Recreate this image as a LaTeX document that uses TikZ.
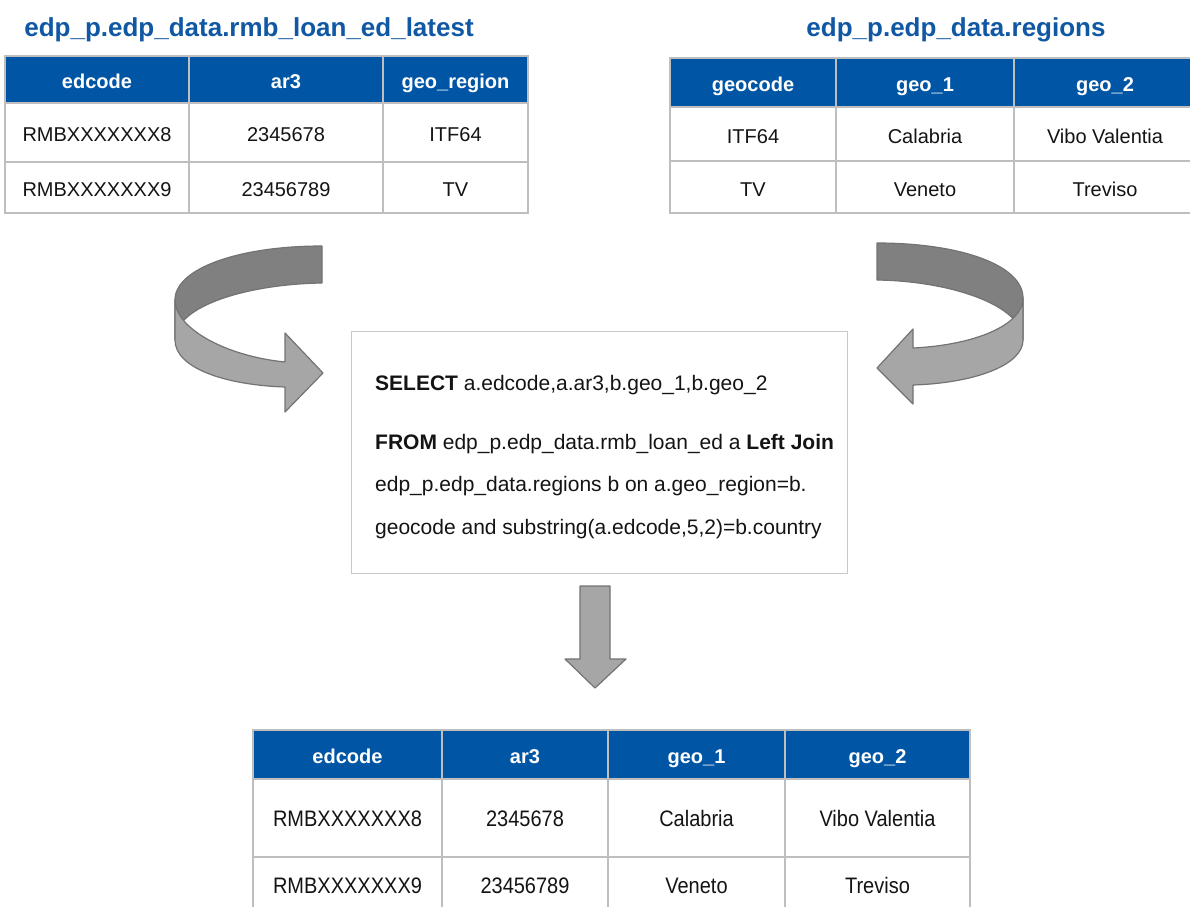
\documentclass[tikz,border=0pt]{standalone}
\usepackage{fontspec}
\setmainfont{Liberation Sans}
\usepackage{graphicx}
\definecolor{hdrblue}{RGB}{0,86,165}
\definecolor{ttlblue}{RGB}{16,88,164}
\definecolor{gridgray}{RGB}{190,190,190}
\definecolor{arrdark}{RGB}{128,128,128}
\definecolor{arrlight}{RGB}{166,166,166}
\definecolor{arredge}{RGB}{115,115,115}
\definecolor{boxgray}{RGB}{200,200,200}
\definecolor{txt}{RGB}{20,20,20}
\newcommand\mkcell[7]{\node[#1, minimum width=#5pt, minimum height=#6pt, anchor=north west] (#2) at (#3,#4) {#7};}
\newcommand\tall[1]{\scalebox{1}[1.12]{#1}}
\begin{document}
\begin{tikzpicture}[x=1pt,y=-1pt,
  cellbase/.style={draw=gridgray, line width=2.4pt, inner sep=0pt, outer sep=0pt, text height=18pt, text depth=0pt},
  hdrcell/.style={cellbase, fill=hdrblue, text=white, font=\fontsize{20}{24}\selectfont\bfseries},
  bodycell/.style={cellbase, fill=white, text=txt, font=\fontsize{20}{24}\selectfont},
  bodytall/.style={bodycell, text height=16.5pt},
  tabletitle/.style={text=ttlblue, font=\fontsize{26}{31}\selectfont\bfseries, inner sep=0pt, anchor=base},
  sqltext/.style={anchor=base west, inner sep=0pt, text=txt, font=\fontsize{21}{25}\selectfont},
  backband/.style={fill=arrdark, draw=arredge, line width=1.2pt, line join=round},
  frontband/.style={fill=arrlight, draw=arredge, line width=1.2pt, line join=round},
]
\useasboundingbox (0,0) rectangle (1190,906);
\clip (0,0) rectangle (1190,906);
\fill[white] (0,0) rectangle (1190,906);

% titles
\node[tabletitle] (titleA) at (249,36) {edp\_p.edp\_data.rmb\_loan\_ed\_latest};
\node[tabletitle] (titleB) at (956,36) {edp\_p.edp\_data.regions};

% table A
\mkcell{hdrcell}{a00}{5}{56}{184}{47}{edcode}
\mkcell{hdrcell}{a01}{189}{56}{194}{47}{ar3}
\mkcell{hdrcell}{a02}{383}{56}{145}{47}{geo\_region}
\mkcell{bodycell}{a10}{5}{103}{184}{59}{RMBXXXXXXX8}
\mkcell{bodycell}{a11}{189}{103}{194}{59}{2345678}
\mkcell{bodycell}{a12}{383}{103}{145}{59}{ITF64}
\mkcell{bodycell}{a20}{5}{162}{184}{51}{RMBXXXXXXX9}
\mkcell{bodycell}{a21}{189}{162}{194}{51}{23456789}
\mkcell{bodycell}{a22}{383}{162}{145}{51}{TV}

% table B
\mkcell{hdrcell}{b00}{670}{58}{166}{49}{geocode}
\mkcell{hdrcell}{b01}{836}{58}{178}{49}{geo\_1}
\mkcell{hdrcell}{b02}{1014}{58}{182}{49}{geo\_2}
\mkcell{bodycell}{b10}{670}{107}{166}{54}{ITF64}
\mkcell{bodycell}{b11}{836}{107}{178}{54}{Calabria}
\mkcell{bodycell}{b12}{1014}{107}{182}{54}{Vibo Valentia}
\mkcell{bodycell}{b20}{670}{161}{166}{52}{TV}
\mkcell{bodycell}{b21}{836}{161}{178}{52}{Veneto}
\mkcell{bodycell}{b22}{1014}{161}{182}{52}{Treviso}

% left curved arrow
\draw[backband] (322,246) .. controls (240,246) and (175,268) .. (175,300)
  -- (175,340) .. controls (175,305) and (250,284) .. (322,283) -- cycle;
\draw[frontband] (175,300) .. controls (175,328) and (225,356) .. (285,362)
  -- (285,333) -- (323,373) -- (285,412) -- (285,387)
  .. controls (225,385) and (175,368) .. (175,340) -- cycle;

% right curved arrow
\draw[backband] (877,243) .. controls (960,243) and (1023,265) .. (1023,298)
  -- (1023,340) .. controls (1023,305) and (950,281) .. (877,280) -- cycle;
\draw[frontband] (1023,298) .. controls (1023,325) and (975,345) .. (913,348)
  -- (913,329) -- (877,368) -- (913,404) -- (913,385)
  .. controls (975,383) and (1023,365) .. (1023,340) -- cycle;

% SQL box
\node[draw=boxgray, line width=1.3pt, minimum width=496pt, minimum height=242pt, anchor=north west, inner sep=0pt] (sql) at (351,331) {};
\node[sqltext] (q1) at (375,390) {\textbf{SELECT} a.edcode,a.ar3,b.geo\_1,b.geo\_2};
\node[sqltext] (q2) at (375,449) {\textbf{FROM} edp\_p.edp\_data.rmb\_loan\_ed a \textbf{Left Join}};
\node[sqltext] (q3) at (375,491) {edp\_p.edp\_data.regions b on a.geo\_region=b.};
\node[sqltext] (q4) at (375,534) {geocode and substring(a.edcode,5,2)=b.country};

% down arrow
\draw[frontband] (580,586) -- (610,586) -- (610,659) -- (626,659) -- (595,688) -- (565,659) -- (580,659) -- cycle;

% result table
\mkcell{hdrcell}{c00}{253}{730}{189}{49}{edcode}
\mkcell{hdrcell}{c01}{442}{730}{166}{49}{ar3}
\mkcell{hdrcell}{c02}{608}{730}{177}{49}{geo\_1}
\mkcell{hdrcell}{c03}{785}{730}{185}{49}{geo\_2}
\mkcell{bodytall}{c10}{253}{779}{189}{78}{\tall{RMBXXXXXXX8}}
\mkcell{bodytall}{c11}{442}{779}{166}{78}{\tall{2345678}}
\mkcell{bodytall}{c12}{608}{779}{177}{78}{\tall{Calabria}}
\mkcell{bodytall}{c13}{785}{779}{185}{78}{\tall{Vibo Valentia}}
\mkcell{bodytall}{c20}{253}{857}{189}{57}{\tall{RMBXXXXXXX9}}
\mkcell{bodytall}{c21}{442}{857}{166}{57}{\tall{23456789}}
\mkcell{bodytall}{c22}{608}{857}{177}{57}{\tall{Veneto}}
\mkcell{bodytall}{c23}{785}{857}{185}{57}{\tall{Treviso}}
\end{tikzpicture}
\end{document}
